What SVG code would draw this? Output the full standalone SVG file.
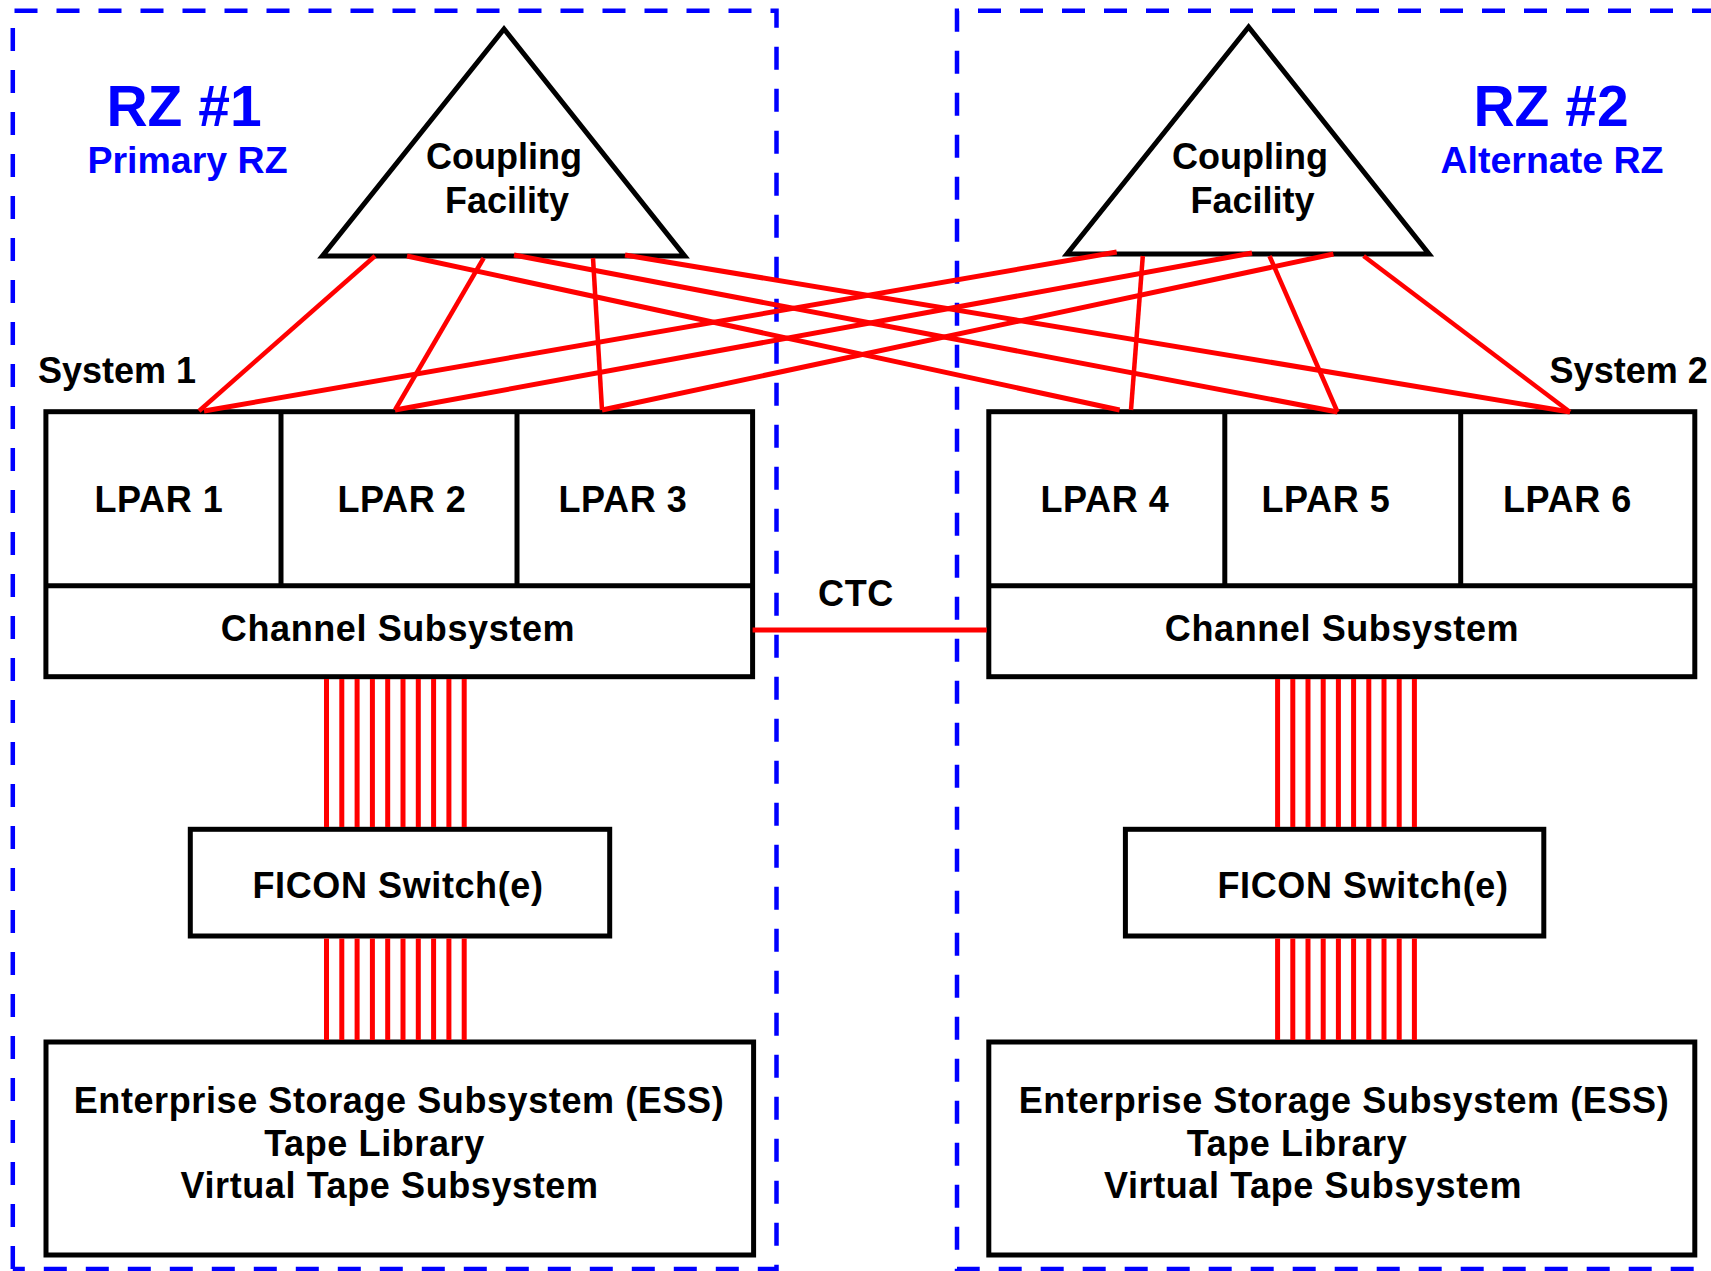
<svg xmlns="http://www.w3.org/2000/svg" width="1711" height="1271" viewBox="0 0 1711 1271">
<style>
.zone{fill:none;stroke:#0000FF;stroke-width:4.5;stroke-dasharray:23 19}
.box{fill:#FFFFFF;stroke:#000000;stroke-width:5}
.div{stroke:#000000;stroke-width:5}
.lbl{font-family:"Liberation Sans",Arial,sans-serif;font-weight:bold;font-size:36px;letter-spacing:0.6px;fill:#000000;text-anchor:middle}
.rz{font-family:"Liberation Sans",Arial,sans-serif;font-weight:bold;fill:#0000FF;text-anchor:middle}
.cf{stroke:#FF0000;stroke-width:4.5;fill:none}
.cross{stroke:#FF0000;stroke-width:5;fill:none}
.ch{stroke:#FF0000;stroke-width:5}
</style>
<g id="zones">
<path class="zone" d="M12.8,1269 V10.7 H776.5 V1269 H12.8"/>
<path class="zone" d="M1715,10.7 H957 V1269 H1715"/>
</g>
<g id="zone-labels">
<text class="rz" x="184" y="126" font-size="57">RZ #1</text>
<text class="rz" x="187.5" y="173" font-size="37.5">Primary RZ</text>
<text class="rz" x="1551" y="126" font-size="57">RZ #2</text>
<text class="rz" x="1552" y="173" font-size="37.5">Alternate RZ</text>
</g>
<g id="cf1">
<polygon class="box" points="504,29 322.4,256 684.7,256"/>
<text class="lbl" x="504" y="169" style="letter-spacing:0">Coupling</text>
<text class="lbl" x="507" y="212.5" style="letter-spacing:0">Facility</text>
</g>
<g id="cf2">
<polygon class="box" points="1248.6,27 1067,254 1429,254"/>
<text class="lbl" x="1250" y="169" style="letter-spacing:0">Coupling</text>
<text class="lbl" x="1252.5" y="212.5" style="letter-spacing:0">Facility</text>
</g>
<g id="system1">
<text class="lbl" x="38" y="383" style="text-anchor:start;letter-spacing:0">System 1</text>
<rect class="box" x="45.9" y="411.7" width="706.7" height="265"/>
<line class="div" x1="45.9" y1="585.7" x2="752.6" y2="585.7"/>
<line class="div" x1="281" y1="411.7" x2="281" y2="585.7"/>
<line class="div" x1="517" y1="411.7" x2="517" y2="585.7"/>
<text class="lbl" x="159" y="512">LPAR 1</text>
<text class="lbl" x="402" y="512">LPAR 2</text>
<text class="lbl" x="623" y="512">LPAR 3</text>
<text class="lbl" x="398" y="641">Channel Subsystem</text>
</g>
<g id="system2">
<text class="lbl" x="1549.6" y="383" style="text-anchor:start;letter-spacing:0">System 2</text>
<rect class="box" x="988.8" y="411.7" width="706" height="265"/>
<line class="div" x1="988.8" y1="585.7" x2="1694.8" y2="585.7"/>
<line class="div" x1="1224.8" y1="411.7" x2="1224.8" y2="585.7"/>
<line class="div" x1="1460.7" y1="411.7" x2="1460.7" y2="585.7"/>
<text class="lbl" x="1105" y="512">LPAR 4</text>
<text class="lbl" x="1326" y="512">LPAR 5</text>
<text class="lbl" x="1567.5" y="512">LPAR 6</text>
<text class="lbl" x="1342" y="641">Channel Subsystem</text>
</g>
<g id="ficon1">
<rect class="box" x="190.3" y="829.3" width="419.4" height="106.7"/>
<text class="lbl" x="398" y="898">FICON Switch(e)</text>
</g>
<g id="ficon2">
<rect class="box" x="1125.4" y="829.3" width="418.4" height="106.7"/>
<text class="lbl" x="1363" y="898">FICON Switch(e)</text>
</g>
<g id="storage1">
<rect class="box" x="46" y="1042" width="707.6" height="213"/>
<text class="lbl" x="399" y="1113">Enterprise Storage Subsystem (ESS)</text>
<text class="lbl" x="374.5" y="1156">Tape Library</text>
<text class="lbl" x="389.5" y="1198">Virtual Tape Subsystem</text>
</g>
<g id="storage2">
<rect class="box" x="988.8" y="1042" width="706" height="213"/>
<text class="lbl" x="1344" y="1113">Enterprise Storage Subsystem (ESS)</text>
<text class="lbl" x="1297" y="1156">Tape Library</text>
<text class="lbl" x="1313" y="1198">Virtual Tape Subsystem</text>
</g>
<g id="connectors">
<line class="cf" x1="375" y1="256" x2="199" y2="411"/>
<line class="cf" x1="483.7" y1="258" x2="395" y2="410"/>
<line class="cf" x1="593" y1="258" x2="602" y2="410"/>
<line class="cross" x1="407" y1="256" x2="1119.6" y2="410"/>
<line class="cross" x1="514" y1="255" x2="1337.5" y2="412"/>
<line class="cross" x1="625" y1="255" x2="1570" y2="412"/>
<line class="cross" x1="1116.7" y1="252" x2="204" y2="411"/>
<line class="cross" x1="1252" y1="253" x2="395" y2="410"/>
<line class="cross" x1="1333.4" y1="254" x2="602" y2="410"/>
<line class="cf" x1="1142.8" y1="256" x2="1131" y2="410"/>
<line class="cf" x1="1269.5" y1="256" x2="1337.5" y2="412"/>
<line class="cf" x1="1363.6" y1="256" x2="1570" y2="412"/>
<line class="cross" x1="752.6" y1="630" x2="986.8" y2="630"/>
<text class="lbl" x="856" y="606">CTC</text>
<g class="ch">
<path d="M326.5,679V827M341.8,679V827M357.1,679V827M372.4,679V827M387.7,679V827M403,679V827M418.3,679V827M433.6,679V827M448.9,679V827M464.2,679V827"/>
<path d="M326.5,938.5V1040M341.8,938.5V1040M357.1,938.5V1040M372.4,938.5V1040M387.7,938.5V1040M403,938.5V1040M418.3,938.5V1040M433.6,938.5V1040M448.9,938.5V1040M464.2,938.5V1040"/>
<path d="M1277.6,679V827M1292.8,679V827M1308,679V827M1323.2,679V827M1338.4,679V827M1353.6,679V827M1368.8,679V827M1384,679V827M1399.2,679V827M1414.4,679V827"/>
<path d="M1277.6,938.5V1040M1292.8,938.5V1040M1308,938.5V1040M1323.2,938.5V1040M1338.4,938.5V1040M1353.6,938.5V1040M1368.8,938.5V1040M1384,938.5V1040M1399.2,938.5V1040M1414.4,938.5V1040"/>
</g>
</g>
</svg>
